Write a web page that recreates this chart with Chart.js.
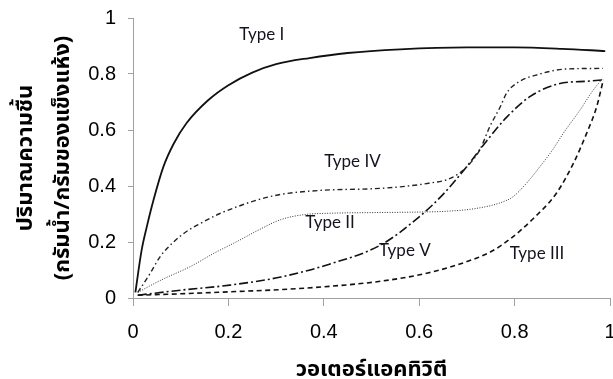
<!DOCTYPE html>
<html>
<head>
<meta charset="utf-8">
<script src="https://cdn.jsdelivr.net/npm/chart.js@4.4.1/dist/chart.umd.min.js"></script>
<style>
  html, body { margin: 0; padding: 0; background: #fff; }
  #wrap { width: 613px; height: 379px; }
</style>
</head>
<body>
<div id="wrap"><canvas id="c" width="613" height="379"></canvas></div>
<script>
// ค่าที่อ่านจากกราฟ (x = วอเตอร์แอคทิวิตี, y = ปริมาณความชื้น)
const type1X = [0.005, 0.018, 0.029, 0.043, 0.064, 0.085, 0.112, 0.158, 0.2, 0.25, 0.3, 0.37, 0.45, 0.56, 0.7, 0.8, 0.9, 0.99]
const type1Y = [0.02, 0.17, 0.255, 0.35, 0.47, 0.55, 0.624, 0.707, 0.76, 0.805, 0.835, 0.857, 0.875, 0.888, 0.895, 0.895, 0.89, 0.882]

const type2X = [0.01, 0.06, 0.12, 0.17, 0.224, 0.26, 0.31, 0.36, 0.42, 0.5, 0.6, 0.66, 0.72, 0.77, 0.797, 0.825, 0.853, 0.88, 0.902, 0.937, 0.965, 0.985]
const type2Y = [0.02, 0.065, 0.112, 0.16, 0.207, 0.24, 0.28, 0.298, 0.303, 0.305, 0.307, 0.31, 0.32, 0.34, 0.362, 0.41, 0.469, 0.53, 0.588, 0.671, 0.743, 0.785]

const type3X = [0.01, 0.1, 0.2, 0.31, 0.4, 0.52, 0.62, 0.7, 0.75, 0.79, 0.84, 0.888, 0.923, 0.951, 0.972, 0.986]
const type3Y = [0.01, 0.015, 0.022, 0.03, 0.04, 0.06, 0.09, 0.13, 0.165, 0.21, 0.285, 0.375, 0.48, 0.588, 0.683, 0.779]

const type4X = [0.01, 0.036, 0.057, 0.085, 0.11, 0.14, 0.18, 0.217, 0.26, 0.31, 0.4, 0.5, 0.56, 0.62, 0.665, 0.7, 0.727, 0.748, 0.77, 0.783, 0.804, 0.853, 0.909, 0.985]
const type4Y = [0.02, 0.088, 0.148, 0.2, 0.235, 0.265, 0.3, 0.325, 0.35, 0.37, 0.385, 0.39, 0.397, 0.41, 0.427, 0.469, 0.529, 0.612, 0.683, 0.731, 0.767, 0.8, 0.818, 0.82]

const type5X = [0.01, 0.1, 0.203, 0.31, 0.41, 0.52, 0.6, 0.65, 0.7, 0.741, 0.783, 0.832, 0.888, 0.958, 0.985]
const type5Y = [0.01, 0.028, 0.046, 0.075, 0.12, 0.19, 0.29, 0.37, 0.47, 0.56, 0.645, 0.719, 0.763, 0.775, 0.779]

const typeNames = ["Type I", "Type II", "Type III", "Type IV", "Type V"]
// ตำแหน่งป้ายชื่อ (หน่วยของแกน)
const labelX = [0.27, 0.413, 0.847, 0.46, 0.57]
const labelY = [0.94, 0.27, 0.16, 0.486, 0.17]

const xTickLabels = ["0", "0.2", "0.4", "0.6", "0.8", "1"]
const yTickLabels = ["0", "0.2", "0.4", "0.6", "0.8", "1"]

const xTitle = "วอเตอร์แอคทิวิตี"
const yTitle = ["ปริมาณความชื้น", "(กรัมน้ำ/กรัมของแข็งแห้ง)"]

const thaiFont = "'Noto Sans Thai', 'Noto Sans', 'DejaVu Sans', sans-serif"
const tickFont = { family: "'Liberation Sans', Arial, sans-serif", size: 20 }

const toPoints = function (xs, ys) {
  return xs.map((x, i) => ({ x: x, y: ys[i] }))
}

//ป้ายชื่อ Type บนกราฟ
const typeLabels = {
  id: "typeLabels",
  afterDatasetsDraw(chart) {
    const { ctx, scales } = chart
    ctx.save()
    ctx.font = "17px Lato, 'Open Sans', sans-serif"
    ctx.fillStyle = "#141420"
    ctx.textAlign = "center"
    ctx.textBaseline = "middle"
    typeNames.forEach((t, i) => {
      ctx.fillText(t, scales.x.getPixelForValue(labelX[i]), scales.y.getPixelForValue(labelY[i]))
    })
    ctx.restore()
  },
}

const line = function (xs, ys, dash, width, color) {
  return {
    data: toPoints(xs, ys),
    borderColor: color,
    borderWidth: width,
    borderDash: dash,
    pointRadius: 0,
    fill: false,
    cubicInterpolationMode: "monotone",
  }
}

new Chart(document.getElementById("c"), {
  type: "scatter",
  plugins: [typeLabels],
  data: {
    datasets: [
      line(type1X, type1Y, [], 1.8, "#111"),
      line(type2X, type2Y, [1, 1.5], 1, "#333"),
      line(type3X, type3Y, [5, 3.5], 1.6, "#111"),
      line(type4X, type4Y, [5, 3, 1.5, 3], 1.4, "#222"),
      line(type5X, type5Y, [9, 3, 2, 3], 1.6, "#111"),
    ],
  },
  options: {
    responsive: false,
    animation: false,
    showLine: true,
    layout: { padding: { top: 18, right: 3, left: 0, bottom: 0 } },
    plugins: { legend: { display: false }, tooltip: { enabled: false } },
    scales: {
      x: {
        type: "linear",
        min: 0,
        max: 1,
        ticks: {
          stepSize: 0.2,
          color: "#000",
          font: tickFont,
          padding: 14,
          maxRotation: 0,
          callback: (v, i) => xTickLabels[i],
        },
        grid: { drawOnChartArea: false, drawTicks: true, tickLength: 8, color: "#a0a0a0" },
        border: { color: "#a0a0a0", width: 1 },
        title: {
          display: true,
          text: xTitle,
          color: "#000",
          font: { family: thaiFont, size: 22, weight: "bold", lineHeight: 1.2 },
          padding: { top: 0, bottom: -6 },
        },
        afterFit(scale) {
          scale.height = 81
          scale.paddingRight = 0
          scale.paddingLeft = 0
        },
      },
      y: {
        min: 0,
        max: 1,
        ticks: {
          stepSize: 0.2,
          color: "#000",
          font: tickFont,
          padding: 12,
          callback: (v, i) => yTickLabels[i],
        },
        grid: { drawOnChartArea: false, drawTicks: true, tickLength: 5, color: "#a0a0a0" },
        border: { color: "#a0a0a0", width: 1 },
        title: {
          display: true,
          text: yTitle,
          color: "#000",
          font: { family: thaiFont, size: 22, weight: "bold", lineHeight: 1.68 },
          padding: { top: 9.5, bottom: 0 },
        },
        afterFit(scale) {
          scale.width = 133
          scale.paddingTop = 0
          scale.paddingBottom = 0
        },
      },
    },
  },
})
</script>
</body>
</html>
